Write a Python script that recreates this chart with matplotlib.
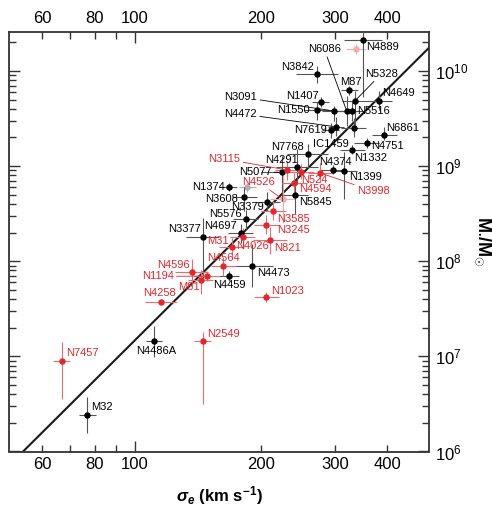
import numpy as np
import matplotlib
matplotlib.use("Agg")
import matplotlib.pyplot as plt
from matplotlib.ticker import FixedLocator, FixedFormatter, LogLocator, NullFormatter

plt.rcParams["font.family"] = ["Liberation Sans", "DejaVu Sans"]
plt.rcParams["mathtext.fontset"] = "custom"
plt.rcParams["mathtext.rm"] = "Liberation Sans"
plt.rcParams["mathtext.it"] = "Liberation Sans:italic"
plt.rcParams["mathtext.bf"] = "Liberation Sans:bold"
plt.rcParams["mathtext.bfit"] = "Liberation Sans:italic:bold"

# ellipticals (black): sigma [km/s], mass [Msun], errors in dex
ell_names = ["N4889", "N3842", "M87", "N5328", "N4649", "N1407", "N1550", "N3091",
             "N6086", "N5516", "N4472", "N7619", "IC1459", "N6861", "N4751", "N1332",
             "N7768", "N4291", "N5077", "N4374", "N1399", "N5845", "N1374", "N3608",
             "N3379", "N5576", "N4697", "N3377", "N4473", "N4459", "N4486A", "M32"]
ell_sigma = [349.5, 271.5, 324.8, 335, 383, 277.4, 271.5, 299,
             320, 330, 301.8, 293, 332.7, 393, 357, 329.6,
             258, 243, 223.7, 297.3, 316, 241, 167.4, 182.3,
             206.9, 183.7, 178.6, 145, 190.5, 167.4, 111, 76.9]
ell_mass = [2.12e10, 9.2e9, 6.26e9, 4.87e9, 4.87e9, 4.75e9, 3.89e9, 3.79e9,
            3.79e9, 3.79e9, 2.59e9, 2.39e9, 2.53e9, 2.12e9, 1.75e9, 1.49e9,
            1.35e9, 9.9e8, 8.6e8, 9.2e8, 8.9e8, 4.95e8, 6.0e8, 4.75e8,
            4.23e8, 2.75e8, 1.97e8, 1.78e8, 9.0e7, 7.0e7, 1.44e7, 2.41e6]
ell_dsig = [0.045, 0.05, 0.02, 0.03, 0.03, 0.02, 0.03, 0.03,
            0.03, 0.03, 0.02, 0.02, 0.03, 0.03, 0.03, 0.03,
            0.05, 0.05, 0.05, 0.03, 0.03, 0.03, 0.02, 0.03,
            0.03, 0.03, 0.03, 0.04, 0.05, 0.024, 0.02, 0.02]
ell_dm_lo = [0.6, 0.09, 0.05, 0.27, 0.1, 0.05, 0.1, 0.1,
             0.16, 0.1, 0.1, 0.08, 0.1, 0.05, 0.05, 0.05,
             0.15, 0.18, 0.3, 0.05, 0.3, 0.2, 0.04, 0.15,
             0.1, 0.1, 0.1, 0.45, 0.23, 0.05, 0.16, 0.19]
ell_dm_hi = [0.25, 0.09, 0.05, 0.1, 0.1, 0.05, 0.08, 0.05,
             0.16, 0.1, 0.1, 0.08, 0.1, 0.08, 0.05, 0.05,
             0.1, 0.18, 0.17, 0.05, 0.2, 0.1, 0.04, 0.1,
             0.1, 0.1, 0.1, 0.2, 0.23, 0.05, 0.16, 0.19]

# classical bulges (red)
blg_names = ["N3115", "N524", "N3998", "N4594", "N3585", "N3245", "N821", "M31",
             "N4026", "N4564", "N4596", "N1194", "M81", "N4258", "N1023", "N2549",
             "N7457"]
blg_sigma = [231, 249, 276.4, 240, 213.7, 205.5, 210, 180.7,
             170.2, 162.4, 136.5, 148.3, 143.3, 115.2, 205.5, 145, 66.8]
blg_mass = [9.1e8, 8.7e8, 8.5e8, 6.65e8, 3.38e8, 2.42e8, 1.66e8, 1.78e8,
            1.40e8, 8.9e7, 7.66e7, 7.0e7, 6.4e7, 3.77e7, 4.21e7, 1.44e7, 8.9e6]
blg_dsig = [0.03, 0.03, 0.03, 0.03, 0.03, 0.03, 0.04, 0.03,
            0.03, 0.03, 0.04, 0.03, 0.03, 0.038, 0.03, 0.02, 0.02]
blg_dm_lo = [0.1, 0.08, 0.1, 0.1, 0.1, 0.1, 0.14, 0.1,
             0.1, 0.1, 0.14, 0.05, 0.15, 0.02, 0.05, 0.66, 0.4]
blg_dm_hi = [0.1, 0.08, 0.1, 0.1, 0.1, 0.1, 0.14, 0.1,
             0.1, 0.1, 0.14, 0.05, 0.1, 0.02, 0.05, 0.1, 0.2]

# faint / omitted points
pale_names = ["N4526", "", ""]
pale_sigma = [224.9, 336, 185.2]
pale_mass = [4.5e8, 1.7e10, 5.97e8]
pale_dsig = [0.03, 0.024, 0.02]
pale_dm_lo = [0.25, 0.05, 0.05]
pale_dm_hi = [0.25, 0.05, 0.05]
pale_kind = ["bulge", "bulge", "ell"]

# fit: M = fit_norm * (sigma / 200)^fit_slope
fit_norm = 0.309e9
fit_slope = 4.38

RED = "#e3262d"
PALE_RED = "#f4a9ab"
GRAY = "#b0b0b0"

# label placement: offset in pixels (dx, dy up), alignment, leader line
label_pos = {
    "N4889": (3, -7, "left"), "N6086": (-6, 62, "right"), "N3842": (-3, 7, "right"),
    "M87": (1.5, 8, "center"), "N5328": (10, 27, "left"), "N4649": (3, 8, "left"),
    "N1407": (-1.5, 6, "right"), "N1550": (-7, 0, "right"), "N3091": (-77, 14, "right"),
    "N4472": (-79, 13, "right"), "N5516": (4.5, 0, "left"), "N7619": (-3.5, 0.5, "right"),
    "IC1459": (-5.5, -16, "right"), "N6861": (2.5, 7, "left"), "N4751": (5, -3, "left"),
    "N1332": (2.5, -8, "left"), "N7768": (-3.5, 7, "right"), "N4291": (1.5, 7, "right"),
    "N5077": (-10, 0.5, "right"), "N4374": (2, 7.5, "center"), "N1399": (5, -6, "left"),
    "N5845": (3.5, -7, "left"), "N1374": (-4, 0, "right"), "N3608": (-6, -2.5, "right"),
    "N3379": (-3.5, -5.5, "right"), "N5576": (-4, 5, "right"), "N4697": (-4, 7, "right"),
    "N3377": (-2, 8, "right"), "N4473": (4.5, -7.5, "left"), "N4459": (1, -9.5, "center"),
    "N4486A": (2, -10, "center"), "M32": (3.5, 8, "left"),
    "N3115": (-47, 11, "right"), "N524": (0, -8.5, "left"), "N3998": (37, -18.5, "left"),
    "N4594": (4.5, -6.5, "left"), "N4526": (-7.5, 17, "right"), "N3585": (3.5, -8.5, "left"),
    "N3245": (10.5, -5.5, "left"), "N821": (4, -7.5, "left"), "M31": (-13.5, -3.5, "right"),
    "N4026": (4.5, 1.5, "left"), "N4564": (0, 8, "center"), "N4596": (-2, 7.5, "right"),
    "N1194": (-33, -0.5, "right"), "M81": (-1, -7.5, "right"), "N4258": (-1, 8.5, "center"),
    "N1023": (4.5, 6, "left"), "N2549": (4, 7, "left"), "N7457": (4.5, 8, "left"),
}
leaders = {"N6086", "N5328", "N3091", "N4472", "N5077", "N3115", "N3998", "N4526", "N1194"}


def draw_points(ax, sigma, mass, dsig, dm_lo, dm_hi, color, ecolor, zorder):
    s = np.array(sigma)
    m = np.array(mass)
    xerr = [s * (1 - 10 ** -np.array(dsig)), s * (10 ** np.array(dsig) - 1)]
    yerr = [m * (1 - 10 ** -np.array(dm_lo)), m * (10 ** np.array(dm_hi) - 1)]
    ax.errorbar(s, m, xerr=xerr, yerr=yerr, fmt="o", ms=3.6, mfc=color, mec=color,
                ecolor=ecolor, elinewidth=0.8, capsize=0, zorder=zorder)


def draw_labels(ax, names, sigma, mass, color):
    for name, s, m in zip(names, sigma, mass):
        if name not in label_pos:
            continue
        dx, dy, ha = label_pos[name]
        arrow = None
        if name in leaders:
            arrow = dict(arrowstyle="-", color=color, lw=0.6, shrinkA=0, shrinkB=2)
        ax.annotate(name, xy=(s, m), xytext=(dx, dy), textcoords="offset pixels",
                    ha=ha, va="center", fontsize=8, color=color,
                    arrowprops=arrow, zorder=6)


fig = plt.figure(figsize=(4.92, 5.09), dpi=100)
ax = fig.add_axes([9 / 492, 1 - 451.5 / 509, 420 / 492, 419.5 / 509])
ax.set_xscale("log")
ax.set_yscale("log")
ax.set_xlim(50, 503)
ax.set_ylim(1e6, 10 ** 10.41)

# fit line
sig_line = np.logspace(np.log10(50), np.log10(503), 50)
ax.plot(sig_line, fit_norm * (sig_line / 200) ** fit_slope, color="#1a1a1a", lw=1.5, zorder=2)

# pale points
for n, s, m, ds, lo, hi, k in zip(pale_names, pale_sigma, pale_mass, pale_dsig,
                                   pale_dm_lo, pale_dm_hi, pale_kind):
    c = PALE_RED if k == "bulge" else GRAY
    draw_points(ax, [s], [m], [ds], [lo], [hi], c, c, 3)

draw_points(ax, ell_sigma, ell_mass, ell_dsig, ell_dm_lo, ell_dm_hi, "black", "#555555", 4)
draw_points(ax, blg_sigma, blg_mass, blg_dsig, blg_dm_lo, blg_dm_hi, RED, "#ee6a6e", 4)

draw_labels(ax, ell_names, ell_sigma, ell_mass, "black")
draw_labels(ax, blg_names, blg_sigma, blg_mass, RED)
draw_labels(ax, pale_names[:1], pale_sigma[:1], pale_mass[:1], RED)

# x ticks
ax.xaxis.set_major_locator(FixedLocator([100]))
ax.xaxis.set_major_formatter(FixedFormatter(["100"]))
ax.xaxis.set_minor_locator(FixedLocator([60, 70, 80, 90, 200, 300, 400]))
ax.xaxis.set_minor_formatter(FixedFormatter(["60", "", "80", "", "200", "300", "400"]))
ax.yaxis.set_major_locator(LogLocator(base=10, numticks=10))
ax.yaxis.set_minor_locator(LogLocator(base=10, subs=np.arange(2, 10), numticks=20))
ax.yaxis.set_minor_formatter(NullFormatter())

ax.tick_params(which="both", direction="in", top=True, bottom=True, left=True, right=True,
               labeltop=True, labelbottom=True, labelleft=False, labelright=True,
               width=1.0, colors="#333333", labelcolor="black")
ax.tick_params(which="major", length=8, labelsize=12, pad=4)
ax.tick_params(which="minor", length=5, labelsize=12, pad=4)
for sp in ax.spines.values():
    sp.set_linewidth(1.3)
    sp.set_color("#333333")

fig.text(219 / 492, 1 - 496 / 509, r"$\mathbfit{\sigma_e}$ $\mathbf{(km\ s^{-1})}$",
         ha="center", va="center", fontsize=12)
fig.text(483 / 492, 1 - 241 / 509, r"$\mathbf{M_{\bullet}/M_{\odot}}$",
         ha="center", va="center", fontsize=13, rotation=-90)

fig.savefig("out.png", dpi=100)
